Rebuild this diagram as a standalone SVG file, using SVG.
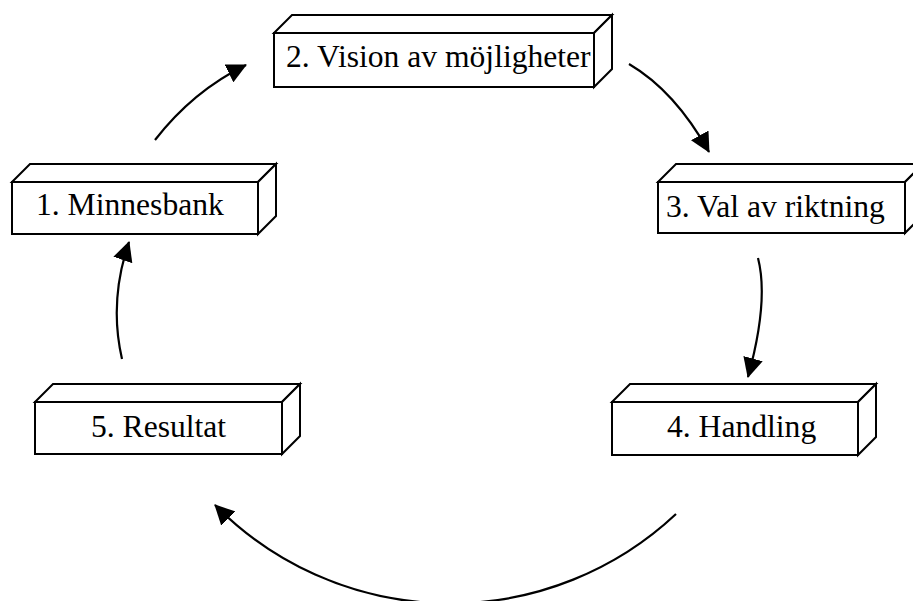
<svg xmlns="http://www.w3.org/2000/svg" width="913" height="601" viewBox="0 0 913 601">
  <style>
    .box path { fill: #fff; stroke: #000; stroke-width: 2; stroke-linejoin: miter; }
    .label { font-family: "Liberation Serif", "Times New Roman", serif; font-size: 31.6px; fill: #000; }
    .conn path { fill: none; stroke: #000; stroke-width: 2.2; }
  </style>
  <defs>
    <marker id="head" markerUnits="userSpaceOnUse" viewBox="0 0 20 20" markerWidth="20" markerHeight="20" refX="19" refY="10" orient="auto">
      <path d="M0,0 L20,10 L0,20 z" fill="#000"/>
    </marker>
  </defs>

  <rect width="913" height="601" fill="#fff"/>

  <!-- 3D boxes: front face, top face, right face -->
  <g id="node1" class="box">
    <path d="M12,182 H258 V234 H12 Z"/>
    <path d="M12,182 L30,164 H276 L258,182 Z"/>
    <path d="M258,182 L276,164 V216 L258,234 Z"/>
    <text class="label" x="36" y="215">1. Minnesbank</text>
  </g>

  <g id="node2" class="box">
    <path d="M274,33 H594 V87 H274 Z"/>
    <path d="M274,33 L292,15 H612 L594,33 Z"/>
    <path d="M594,33 L612,15 V69 L594,87 Z"/>
    <text class="label" x="286" y="67">2. Vision av möjligheter</text>
  </g>

  <g id="node3" class="box">
    <path d="M658,182 H905 V233 H658 Z"/>
    <path d="M658,182 L676,164 H923 L905,182 Z"/>
    <path d="M905,182 L923,164 V215 L905,233 Z"/>
    <text class="label" x="666" y="217">3. Val av riktning</text>
  </g>

  <g id="node4" class="box">
    <path d="M612,402 H858 V455 H612 Z"/>
    <path d="M612,402 L630,384 H876 L858,402 Z"/>
    <path d="M858,402 L876,384 V437 L858,455 Z"/>
    <text class="label" x="667" y="437">4. Handling</text>
  </g>

  <g id="node5" class="box">
    <path d="M35,402 H282 V454 H35 Z"/>
    <path d="M35,402 L53,384 H300 L282,402 Z"/>
    <path d="M282,402 L300,384 V436 L282,454 Z"/>
    <text class="label" x="91" y="437">5. Resultat</text>
  </g>

  <!-- curved connectors around the cycle -->
  <g id="connectors" class="conn">
    <path d="M155,140 Q193,91 246,65" marker-end="url(#head)"/>
    <path d="M629,64 Q675,91 709,152" marker-end="url(#head)"/>
    <path d="M758,258 Q769,301 748,377" marker-end="url(#head)"/>
    <path d="M676,514 A330,330 0 0 1 215,505" marker-end="url(#head)"/>
    <path d="M122,359 C113,320 116,280 129,242" marker-end="url(#head)"/>
  </g>
</svg>
